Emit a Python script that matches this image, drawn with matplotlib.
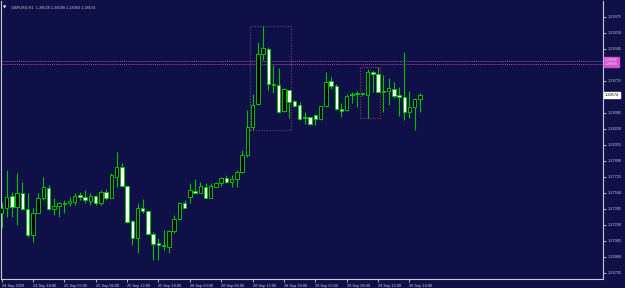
import numpy as np
import matplotlib.pyplot as plt
from matplotlib.patches import Rectangle
from matplotlib import font_manager

# GBPUSD H1 candles, 24 Sep 12:00 .. 29 Sep 20:00 (weekend skipped)
opens = [1.27351, 1.27402, 1.27529, 1.27419, 1.27557, 1.27395, 1.27127, 1.27357, 1.27505, 1.27615,
         1.27395, 1.27426, 1.27443, 1.27460, 1.27470, 1.27536, 1.27519, 1.27481, 1.27529, 1.27454,
         1.27573, 1.27512, 1.27728, 1.27831, 1.27632, 1.27271, 1.27093, 1.27402, 1.27374, 1.27137,
         1.27041, 1.27024, 1.27006, 1.27165, 1.27292, 1.27460, 1.27522, 1.27581, 1.27563, 1.27625,
         1.27512, 1.27625, 1.27660, 1.27712, 1.27670, 1.27701, 1.27780, 1.27952, 1.28244, 1.28475,
         1.28993, 1.29045, 1.28687, 1.28674, 1.28406, 1.28619, 1.28506, 1.28468, 1.28341, 1.28341,
         1.28368, 1.28323, 1.28454, 1.28715, 1.28667, 1.28426, 1.28416, 1.28568, 1.28578, 1.28586,
         1.28571, 1.28811, 1.28784, 1.28609, 1.28609, 1.28633, 1.28571, 1.28547, 1.28398, 1.28444,
         1.28528]
highs = [1.27470, 1.27797, 1.27573, 1.27769, 1.27677, 1.27557, 1.27402, 1.27557, 1.27722, 1.27643,
         1.27505, 1.27470, 1.27488, 1.27522, 1.27563, 1.27567, 1.27591, 1.27563, 1.27539, 1.27591,
         1.27598, 1.27763, 1.27983, 1.27866, 1.27643, 1.27282, 1.27454, 1.27495, 1.27385, 1.27161,
         1.27093, 1.27178, 1.27178, 1.27333, 1.27470, 1.27488, 1.27660, 1.27701, 1.27677, 1.27660,
         1.27660, 1.27677, 1.27728, 1.27746, 1.27746, 1.27797, 1.28003, 1.28416, 1.28578, 1.29120,
         1.29282, 1.29069, 1.28880, 1.28846, 1.28640, 1.28622, 1.28519, 1.28502, 1.28398, 1.28347,
         1.28372, 1.28460, 1.28805, 1.28756, 1.28681, 1.28485, 1.28578, 1.28599, 1.28612, 1.28602,
         1.28836, 1.28821, 1.28862, 1.28777, 1.28743, 1.28708, 1.28656, 1.29017, 1.28612, 1.28537,
         1.28589]
lows = [1.27196, 1.27316, 1.27316, 1.27230, 1.27385, 1.27109, 1.27058, 1.27351, 1.27488, 1.27385,
        1.27333, 1.27316, 1.27351, 1.27426, 1.27436, 1.27488, 1.27454, 1.27436, 1.27436, 1.27436,
        1.27488, 1.27505, 1.27625, 1.27625, 1.27248, 1.27024, 1.26938, 1.27351, 1.27127, 1.26869,
        1.26869, 1.26972, 1.26938, 1.27151, 1.27282, 1.27402, 1.27454, 1.27557, 1.27557, 1.27505,
        1.27505, 1.27625, 1.27632, 1.27666, 1.27625, 1.27625, 1.27763, 1.27931, 1.28210, 1.28468,
        1.28932, 1.28622, 1.28588, 1.28382, 1.28392, 1.28337, 1.28450, 1.28313, 1.28269, 1.28261,
        1.28261, 1.28313, 1.28450, 1.28633, 1.28416, 1.28347, 1.28406, 1.28485, 1.28447, 1.28560,
        1.28337, 1.28605, 1.28599, 1.28398, 1.28468, 1.28537, 1.28354, 1.28313, 1.28330, 1.28210,
        1.28393]
closes = [1.27402, 1.27522, 1.27419, 1.27557, 1.27395, 1.27127, 1.27357, 1.27505, 1.27619, 1.27395,
          1.27426, 1.27454, 1.27454, 1.27477, 1.27532, 1.27522, 1.27488, 1.27526, 1.27454, 1.27567,
          1.27512, 1.27746, 1.27831, 1.27632, 1.27264, 1.27099, 1.27402, 1.27374, 1.27137, 1.27034,
          1.27027, 1.27013, 1.27168, 1.27292, 1.27454, 1.27408, 1.27588, 1.27563, 1.27632, 1.27505,
          1.27632, 1.27660, 1.27712, 1.27677, 1.27704, 1.27780, 1.27952, 1.28244, 1.28468, 1.28990,
          1.29052, 1.28684, 1.28671, 1.28398, 1.28629, 1.28502, 1.28460, 1.28320, 1.28330, 1.28269,
          1.28323, 1.28454, 1.28708, 1.28663, 1.28423, 1.28409, 1.28563, 1.28581, 1.28591, 1.28586,
          1.28811, 1.28787, 1.28605, 1.28602, 1.28640, 1.28560, 1.28553, 1.28392, 1.28444, 1.28526,
          1.28574]

time_ticks = [0, 6, 12, 18, 24, 30, 36, 42, 48, 54, 60, 66, 72, 78]
time_labels = ['24 Sep 2020', '24 Sep 18:00', '25 Sep 00:00', '25 Sep 06:00', '25 Sep 12:00',
               '25 Sep 18:00', '28 Sep 00:00', '28 Sep 06:00', '28 Sep 12:00', '28 Sep 18:00',
               '29 Sep 00:00', '29 Sep 06:00', '29 Sep 12:00', '29 Sep 18:00']
# 1.28550 and 1.28880 are covered by the price boxes on the scale
price_labels = ['1.26735', '1.26900', '1.27065', '1.27230', '1.27395', '1.27560', '1.27725',
                '1.27890', '1.28055', '1.28220', '1.28385', '1.28715',
                '1.29045', '1.29210', '1.29375']

# horizontal levels (dotted magenta) and rectangles drawn over bar ranges
levels = [1.28926, 1.28895]
boxes = [(48, 55, '#6a4a78'), (69, 72, '#a03838')]
symbol = 'GBPUSD,H1'

BG = '#101048'
GREEN = '#00c000'
FG = '#c8c8d8'
FS = 2.8


def pick_font():
    for name in ['Liberation Sans Narrow', 'Liberation Sans', 'DejaVu Sans']:
        try:
            font_manager.findfont(name, fallback_to_default=False)
            return name
        except Exception:
            pass
    return 'DejaVu Sans'


def draw_candles(ax):
    for i, (o, h, l, c) in enumerate(zip(opens, highs, lows, closes)):
        ax.vlines(i, l, h, color=GREEN, lw=0.8, zorder=2)
        bottom = min(o, c)
        height = max(abs(c - o), 0.00001)
        face = 'black' if c >= o else 'white'
        ax.add_patch(Rectangle((i - 0.33, bottom), 0.66, height, facecolor=face,
                               edgecolor=GREEN, lw=0.7, zorder=3))


def draw_objects(ax):
    for lv in levels:
        ax.axhline(lv, color='#b040c0', lw=0.7, ls=(0, (1, 1)), zorder=1)
    for a, b, col in boxes:
        top = max(highs[a:b + 1])
        bot = min(lows[a:b + 1])
        ax.add_patch(Rectangle((a - 0.4, bot), b - a + 0.8, top - bot, fill=False,
                               edgecolor=col, lw=0.8, ls=(0, (1, 1.5)), zorder=1))


fam = pick_font()
plt.rcParams['font.family'] = [fam, 'DejaVu Sans']

fig = plt.figure(figsize=(6.25, 2.88), dpi=100, facecolor=BG)
ax = fig.add_axes([1 / 625, 9 / 288, 602 / 625, 278 / 288], facecolor=BG)

draw_objects(ax)
draw_candles(ax)

ax.set_xlim(-0.1, 115.0)
ax.set_ylim(1.266731, 1.295400)

ax.set_xticks(time_ticks)
ax.set_xticklabels(time_labels, ha='left', fontsize=FS, color=FG)
ax.set_yticks([float(s) for s in price_labels])
ax.set_yticklabels(price_labels, fontsize=FS, color=FG)
ax.yaxis.tick_right()
ax.tick_params(axis='x', colors=FG, length=2.5, width=0.6, pad=1.0, labelcolor=FG)
ax.tick_params(axis='y', colors=FG, length=2, width=0.6, pad=1.5, labelcolor=FG)

for side in ['left', 'bottom', 'right']:
    ax.spines[side].set_color(FG)
    ax.spines[side].set_linewidth(0.8)
ax.spines['top'].set_visible(False)

# price labels on the right scale
last = closes[-1]
ax.text(1.003, last, f'{last:.5f}', transform=ax.get_yaxis_transform(), fontsize=FS,
        color='black', va='center', ha='left',
        bbox=dict(boxstyle='square,pad=0.25', facecolor='white', edgecolor='white'), zorder=6)
ax.text(1.003, (levels[0] + levels[1]) / 2, f'{levels[0]:.5f}\n{levels[1]:.5f}',
        transform=ax.get_yaxis_transform(), fontsize=2.5, color='#f8e0f8', va='center', ha='left',
        linespacing=0.95,
        bbox=dict(boxstyle='square,pad=0.3', facecolor='#d050d0', edgecolor='#d050d0'), zorder=6)

# header
ax.text(0.004, 0.985, '\u25bc', transform=ax.transAxes, fontsize=3.0, color='white',
        va='top', ha='left', family='DejaVu Sans')
ax.text(0.016, 0.985, f'{symbol}  {opens[-1]:.5f} {highs[-1]:.5f} {lows[-1]:.5f} {closes[-1]:.5f}',
        transform=ax.transAxes, fontsize=FS, color=FG, va='top', ha='left')

fig.savefig('out.png', dpi=100, facecolor=BG)
